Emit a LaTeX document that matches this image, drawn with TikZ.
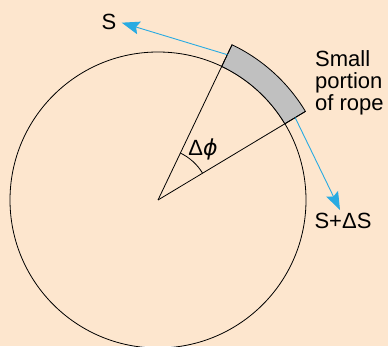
\documentclass[tikz,border=0pt]{standalone}
\usepackage{fontspec}
\setmainfont{Liberation Sans}
\newfontfamily\greekfont{DejaVu Sans}
\usetikzlibrary{arrows.meta}
\definecolor{bg}{RGB}{253,230,206}
\definecolor{ropegray}{RGB}{192,192,192}
\definecolor{force}{RGB}{41,171,226}
\begin{document}
\begin{tikzpicture}[x=1pt,y=1pt,
  lbl/.style={font=\fontsize{22}{22}\selectfont, inner sep=0pt},
  linework/.style={draw=black, line width=0.8pt},
  forcearrow/.style={draw=force, line width=0.9pt, -{Stealth[length=18pt,width=13pt,inset=3pt]}}]
\useasboundingbox (0,0) rectangle (388,346);
\fill[bg] (0,0) rectangle (388,346);
\coordinate (C) at (158,146);
\coordinate (I1) at ([shift={(64.5:148)}]C);
\coordinate (O1) at ([shift={(64.5:172)}]C);
\coordinate (I2) at ([shift={(31:148)}]C);
\coordinate (O2) at ([shift={(31:172)}]C);
\coordinate (A1) at ([shift={(64.5:161)}]C);
\coordinate (A2) at ([shift={(31:160)}]C);
\coordinate (T1) at (121.7,323.3);
\coordinate (T2) at (340,136);
\draw[linework] (C) circle[radius=148];
\filldraw[fill=ropegray, linework] (I2) arc[start angle=31,end angle=64.5,radius=148] -- (O1) arc[start angle=64.5,end angle=31,radius=172] -- cycle;
\draw[linework] (C) -- (O1);
\draw[linework] (C) -- (O2);
\draw[linework] ([shift={(31:52)}]C) arc[start angle=31,end angle=64.5,radius=52];
\draw[forcearrow] (A1) -- (T1);
\draw[forcearrow] (A2) -- (T2);
\node[lbl] (S) at (109,324) {S};
\node[lbl] (dphi) at (203,197) {Δ{\greekfont\itshape ϕ}};
\node[lbl, align=left, anchor=north west] (rope) at (315,296) {Small\\portion\\of rope};
\node[lbl] (SdS) at (343,125.5) {S+ΔS};
\end{tikzpicture}
\end{document}
